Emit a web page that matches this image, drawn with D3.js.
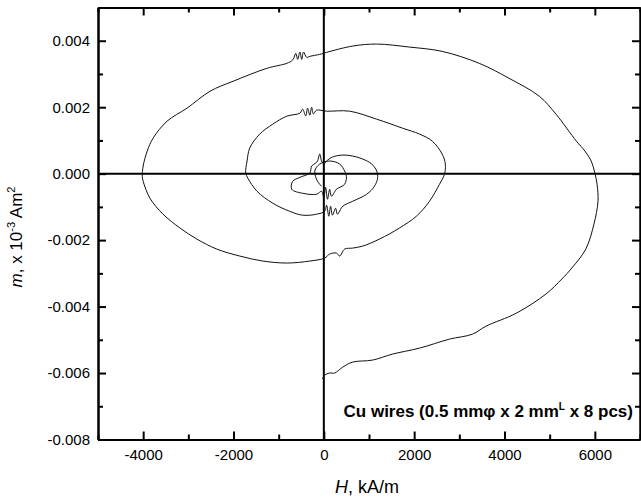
<!DOCTYPE html>
<html><head><meta charset="utf-8">
<script src="https://cdn.jsdelivr.net/npm/d3@7"></script>
<style>
body{margin:0;background:#fff;}
text{font-family:"Liberation Sans",Arial,Helvetica,sans-serif;fill:#000;}
</style></head>
<body><svg id="c" width="641" height="500"></svg>
<script>
// H (kA/m) values along the spiral trace
const hValues = [-30,20,130,240,420,640,1080,1520,2120,2780,3290,3590,4260,4920,5270,5490,5800,5980,6070,6050,6000,5920,5780,5590,5140,4770,4100,3440,2620,1890,1170,640,60,-90,-310,-380,
-450,-490,-530,-580,-620,-690,-820,-1260,-2010,-2520,-3030,-3470,-3780,-3910,-4000,-4020,-4000,-3850,-3560,-3180,-2810,-2370,-1860,-1350,-820,-310,20,130,280,350,460,640,860,1230,1670,2050,2340,2560,2670,2690,2620,2400,2120,1740,1170,570,60,-160,
-230,-270,-310,-360,-400,-470,-530,-820,-1130,-1420,-1640,-1700,-1730,-1680,-1480,-1130,-760,-470,-160,20,
60,110,150,190,260,300,420,640,950,1120,1190,1170,1060,860,640,420,190,60,
0,-50,-90,-140,-180,-270,-310,-530,-690,-710,-470,-160,
-50,0,40,80,130,170,280,460,500,460,350,130,-90,-200,-140,-50];
// m values along the same trace
const mValues = [-0.00618,-0.00606,-0.00600,-0.00600,-0.00582,-0.00567,-0.00561,-0.00543,-0.00525,-0.00498,-0.00483,-0.00459,-0.00420,-0.00362,-0.00317,-0.00284,-0.00227,-0.00152,-0.00083,-0.00032,0.00002,0.00038,0.00068,0.00098,0.00179,0.00233,0.00287,0.00332,0.00368,0.00381,0.00390,0.00384,0.00365,0.00359,0.00353,0.00350,
0.00366,0.00344,0.00366,0.00344,0.00362,0.00342,0.00332,0.00317,0.00278,0.00248,0.00197,0.00158,0.00107,0.00068,0.00023,-0.00008,-0.00023,-0.00074,-0.00122,-0.00164,-0.00197,-0.00227,-0.00248,-0.00263,-0.00269,-0.00263,-0.00254,-0.00242,-0.00239,-0.00248,-0.00227,-0.00224,-0.00218,-0.00197,-0.00164,-0.00128,-0.00083,-0.00032,-0.00002,0.00029,0.00059,0.00098,0.00119,0.00137,0.00164,0.00188,0.00188,0.00191,
0.00180,0.00200,0.00176,0.00197,0.00174,0.00194,0.00182,0.00173,0.00149,0.00119,0.00077,0.00038,0.00002,-0.00014,-0.00053,-0.00089,-0.00113,-0.00125,-0.00122,-0.00113,
-0.00095,-0.00128,-0.00098,-0.00125,-0.00104,-0.00122,-0.00098,-0.00083,-0.00062,-0.00038,-0.00014,0.00008,0.00029,0.00044,0.00053,0.00056,0.00050,0.00038,
0.00029,0.00038,0.00059,0.00038,0.00032,0.00023,0.00002,-0.00011,-0.00023,-0.00047,-0.00059,-0.00062,
-0.00053,-0.00071,-0.00041,-0.00077,-0.00047,-0.00068,-0.00047,-0.00032,-0.00008,0.00008,0.00029,0.00038,0.00029,0.00008,-0.00023,-0.00038];

const xMajorTicks = [-4000,-2000,0,2000,4000,6000];
const xMinorTicks = [-5000,-3000,-1000,1000,3000,5000,7000];
const yMajorTicks = [-0.008,-0.006,-0.004,-0.002,0.000,0.002,0.004];
const yMinorTicks = [-0.007,-0.005,-0.003,-0.001,0.001,0.003,0.005];
const xDomain = [-5000,7000];
const yDomain = [-0.008,0.005];

const svg = d3.select("#c");
const L=98,R=640,T=7.5,B=439.5;
const x = d3.scaleLinear().domain(xDomain).range([L,R]);
const y = d3.scaleLinear().domain(yDomain).range([B,T]);
const fx = d => d3.format("d")(d).replace("\u2212","-");
const fy = d => d3.format(".3f")(d).replace("\u2212","-");

function styleAxis(g){
  g.select(".domain").attr("stroke","#000").attr("stroke-width",2);
  g.selectAll(".tick line").attr("stroke","#000").attr("stroke-width",2);
  g.selectAll(".tick text").style("font-size","15px").style("font-family","'Liberation Sans',Arial,sans-serif");
}
// bottom
svg.append("g").attr("transform",`translate(0,${B})`)
  .call(d3.axisBottom(x).tickValues(xMajorTicks).tickSize(-8).tickSizeOuter(0).tickPadding(10).tickFormat(fx))
  .call(styleAxis);
svg.append("g").attr("transform",`translate(0,${B})`)
  .call(d3.axisBottom(x).tickValues(xMinorTicks).tickSize(-5).tickSizeOuter(0).tickFormat(""))
  .call(styleAxis);
// top
svg.append("g").attr("transform",`translate(0,${T})`)
  .call(d3.axisTop(x).tickValues(xMajorTicks).tickSize(-8).tickSizeOuter(0).tickFormat(""))
  .call(styleAxis);
svg.append("g").attr("transform",`translate(0,${T})`)
  .call(d3.axisTop(x).tickValues(xMinorTicks).tickSize(-5).tickSizeOuter(0).tickFormat(""))
  .call(styleAxis);
// left
svg.append("g").attr("transform",`translate(${L},0)`)
  .call(d3.axisLeft(y).tickValues(yMajorTicks).tickSize(-8).tickSizeOuter(0).tickPadding(8).tickFormat(fy))
  .call(styleAxis);
svg.append("g").attr("transform",`translate(${L},0)`)
  .call(d3.axisLeft(y).tickValues(yMinorTicks).tickSize(-5).tickSizeOuter(0).tickFormat(""))
  .call(styleAxis);
// right
svg.append("g").attr("transform",`translate(${R},0)`)
  .call(d3.axisRight(y).tickValues(yMajorTicks).tickSize(-8).tickSizeOuter(0).tickFormat(""))
  .call(styleAxis);
svg.append("g").attr("transform",`translate(${R},0)`)
  .call(d3.axisRight(y).tickValues(yMinorTicks).tickSize(-5).tickSizeOuter(0).tickFormat(""))
  .call(styleAxis);

// zero cross lines
svg.append("line").attr("x1",L).attr("x2",R).attr("y1",y(0)).attr("y2",y(0)).attr("stroke","#000").attr("stroke-width",2);
svg.append("line").attr("x1",x(0)).attr("x2",x(0)).attr("y1",T).attr("y2",B).attr("stroke","#000").attr("stroke-width",2);

// curve
const pts = hValues.map((h,i)=>[h,mValues[i]]);
const line = d3.line().x(d=>x(d[0])).y(d=>y(d[1])).curve(d3.curveCatmullRom.alpha(0.5));
svg.append("path").datum(pts).attr("d",line).attr("fill","none").attr("stroke","#111").attr("stroke-width",1);

// x label
const xl = svg.append("text").attr("x",367).attr("y",493).attr("text-anchor","middle").style("font-size","18px");
xl.append("tspan").style("font-style","italic").text("H");
xl.append("tspan").text(", kA/m");

// y label
const yl = svg.append("text").attr("transform","translate(22,237) rotate(-90)").attr("text-anchor","middle").style("font-size","17px");
yl.append("tspan").style("font-style","italic").text("m");
yl.append("tspan").text(", x 10");
yl.append("tspan").attr("dy",-7).style("font-size","11px").text("-3");
yl.append("tspan").attr("dy",7).text(" Am");
yl.append("tspan").attr("dy",-7).style("font-size","11px").text("2");

// annotation
const an = svg.append("text").attr("x",633).attr("y",417).attr("text-anchor","end").style("font-size","17px").style("font-weight","bold");
an.append("tspan").text("Cu wires (0.5 mm\u03c6 x 2 mm");
an.append("tspan").attr("dy",-7).style("font-size","10px").text("L");
an.append("tspan").attr("dy",7).text(" x 8 pcs)");
</script></body></html>
